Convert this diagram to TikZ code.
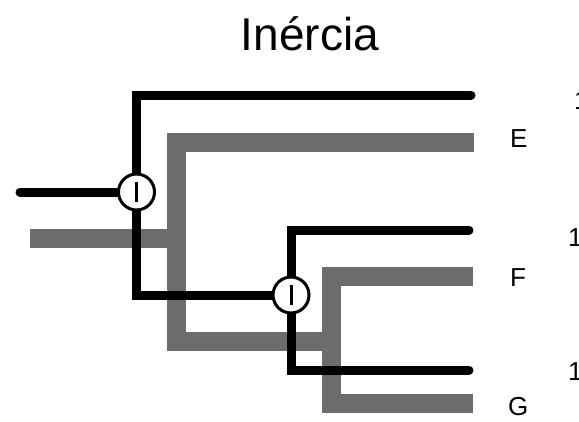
\documentclass[tikz,border=0pt]{standalone}
\usepackage{fontspec}
\setmainfont{Liberation Sans}
\begin{document}
\begin{tikzpicture}[x=1pt,y=-1pt,
  shadebar/.style={line width=19pt, draw={rgb,255:red,108;green,108;blue,108}, line join=miter, line cap=butt},
  inkbar/.style={line width=9pt, draw=black, line join=miter, line cap=round},
  joint/.style={circle, draw=black, line width=3pt, fill=white, minimum size=36pt, inner sep=0pt},
  tiplabel/.style={inner sep=0pt, anchor=base west, font=\fontsize{26}{30}\selectfont},
  caption/.style={inner sep=0pt, anchor=base, font=\fontsize{46}{50}\selectfont}
]
\useasboundingbox (0,0) rectangle (579,421);

% title
\node[caption] (title) at (310,50) {Inércia};

% grey lineage
\coordinate (gE) at (474,142);
\coordinate (gEc) at (176,142);
\coordinate (gMid) at (176,238);
\coordinate (gRoot) at (30,238);
\coordinate (gLow) at (176,341);
\coordinate (gJoin) at (331,341);
\coordinate (gFc) at (331,276);
\coordinate (gF) at (473,276);
\coordinate (gGc) at (331,403);
\coordinate (gG) at (473,403);
\draw[shadebar] (gE) -- (gEc) -- (gLow) -- (gJoin);
\draw[shadebar] (gRoot) -- (gMid);
\draw[shadebar] (gF) -- (gFc) -- (gGc) -- (gG);

% black lineage
\coordinate (c1) at (136.5,192);
\coordinate (c2) at (291,295);
\coordinate (bRoot) at (20,192);
\coordinate (bEc) at (136.5,95);
\coordinate (bE) at (471,95);
\coordinate (bLow) at (136.5,295);
\coordinate (bFc) at (291,230);
\coordinate (bF) at (469,230);
\coordinate (bGc) at (291,370);
\coordinate (bG) at (469,370);
\draw[inkbar] (bE) -- (bEc) -- (bLow) -- (c2);
\draw[inkbar] (bRoot) -- (c1);
\draw[inkbar] (bF) -- (bFc) -- (bGc) -- (bG);

% branching points, drawn over the lines
\node[joint] (j1) at (c1) {};
\node[joint] (j2) at (c2) {};
\draw[line width=3pt] ([yshift=-10pt]j1.center) -- ([yshift=10pt]j1.center);
\draw[line width=3pt] ([yshift=-10pt]j2.center) -- ([yshift=10pt]j2.center);

% tip labels
\node[tiplabel] (lE) at (510,147) {E};
\node[tiplabel] (lF) at (510,286) {F};
\node[tiplabel] (lG) at (508,415) {G};
\node[tiplabel] (n1) at (574,109) {1};
\node[tiplabel] (n2) at (568,246) {1};
\node[tiplabel] (n3) at (568,380) {1};
\end{tikzpicture}
\end{document}
